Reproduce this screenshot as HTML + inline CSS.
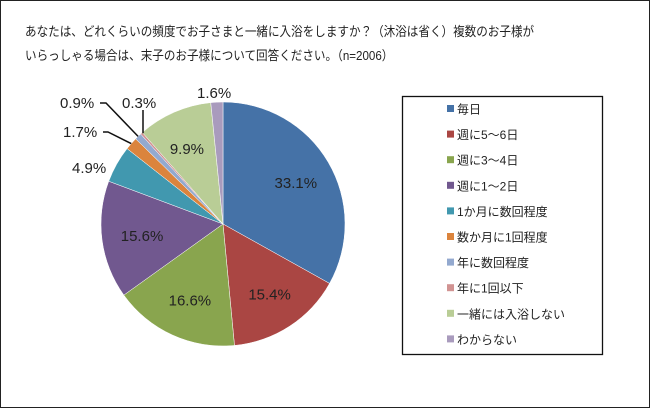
<!DOCTYPE html>
<html><head><meta charset="utf-8"><style>
html,body{margin:0;padding:0;background:#fff}
#wrap{position:relative;width:650px;height:408px;box-sizing:border-box;border:1px solid #222;font-family:"Liberation Sans","Noto Sans CJK JP",sans-serif;}
.title{position:absolute;left:24px;font-size:13px;color:#222;white-space:nowrap;transform:scaleX(0.89);transform-origin:0 0}
</style></head><body>
<div id="wrap">
<div class="title" style="top:20px">あなたは、どれくらいの頻度でお子さまと一緒に入浴をしますか？（沐浴は省く）複数のお子様が</div>
<div class="title" style="top:44px">いらっしゃる場合は、末子のお子様について回答ください。（n=2006）</div>
<svg id="chart" width="650" height="408" style="position:absolute;left:-1px;top:-1px"></svg>
</div>
<script>
const categories=["毎日","週に5～6日","週に3～4日","週に1～2日","1か月に数回程度","数か月に1回程度","年に数回程度","年に1回以下","一緒には入浴しない","わからない"];
const values=[33.1,15.4,16.6,15.6,4.9,1.7,0.9,0.3,9.9,1.6];
const colors=["#4572A7","#AA4643","#89A54E","#71588F","#4198AF","#DB843D","#93A9CF","#D19392","#B9CD96","#A99BBD"];
const NS="http://www.w3.org/2000/svg";
const svg=document.getElementById('chart');
const cx=223,cy=224,r=122;
function mk(t,a){const e=document.createElementNS(NS,t);for(const k in a)e.setAttribute(k,a[k]);svg.appendChild(e);return e;}
const total=values.reduce((a,b)=>a+b,0);
function pt(ang,rad){return [cx+rad*Math.sin(ang),cy-rad*Math.cos(ang)];}
let acc=0;
const mids=[];
values.forEach((v,i)=>{
  const a0=acc/total*2*Math.PI;acc+=v;const a1=acc/total*2*Math.PI;
  const p0=pt(a0,r),p1=pt(a1,r);
  const large=(a1-a0)>Math.PI?1:0;
  const p=mk('path',{d:`M${cx},${cy} L${p0[0]},${p0[1]} A${r},${r} 0 ${large} 1 ${p1[0]},${p1[1]} Z`,fill:colors[i],stroke:'#fff','stroke-width':0.5});
  
  
  mids.push((a0+a1)/2);
});
const outside={4:[72,173],5:[63,137],6:[60,108],7:[122,108],9:[197,98]};
values.forEach((v,i)=>{
  let x,y;
  if(outside[i]){[x,y]=outside[i];}
  else{const q=pt(mids[i],r*0.68);x=q[0]-20;y=q[1]+6;}
  const t=mk('text',{x:x,y:y,'font-size':15,fill:'#222','font-family':'"Liberation Sans",sans-serif'});
  t.textContent=v.toFixed(1)+'%';
  
  
});
function leader(pts,name){const l=mk('polyline',{points:pts,fill:'none',stroke:'#111','stroke-width':1.5});}
const e6=pt(mids[6],r),e5=pt(mids[5],r),e7=pt(mids[7],r);
leader(`100,103 106,103 ${e6[0]},${e6[1]}`,'leader-0.9');
leader(`103,132 108,132 ${e5[0]},${e5[1]}`,'leader-1.7');
leader(`143,110 143,${e7[1]}`,'leader-0.3');
const lb=mk('rect',{x:402.5,y:96.5,width:200,height:258,fill:'#fff',stroke:'#111','stroke-width':1.3});


categories.forEach((c,i)=>{
  const y=109+i*25.6;
  const s=mk('rect',{x:447,y:y-4,width:7,height:7,fill:colors[i]});
  
  
  const t=mk('text',{x:457,y:y+4.5,'font-size':12,fill:'#222','font-family':'"Liberation Sans","Noto Sans CJK JP",sans-serif'});
  t.textContent=c;
  
  
});
</script>
</body></html>
